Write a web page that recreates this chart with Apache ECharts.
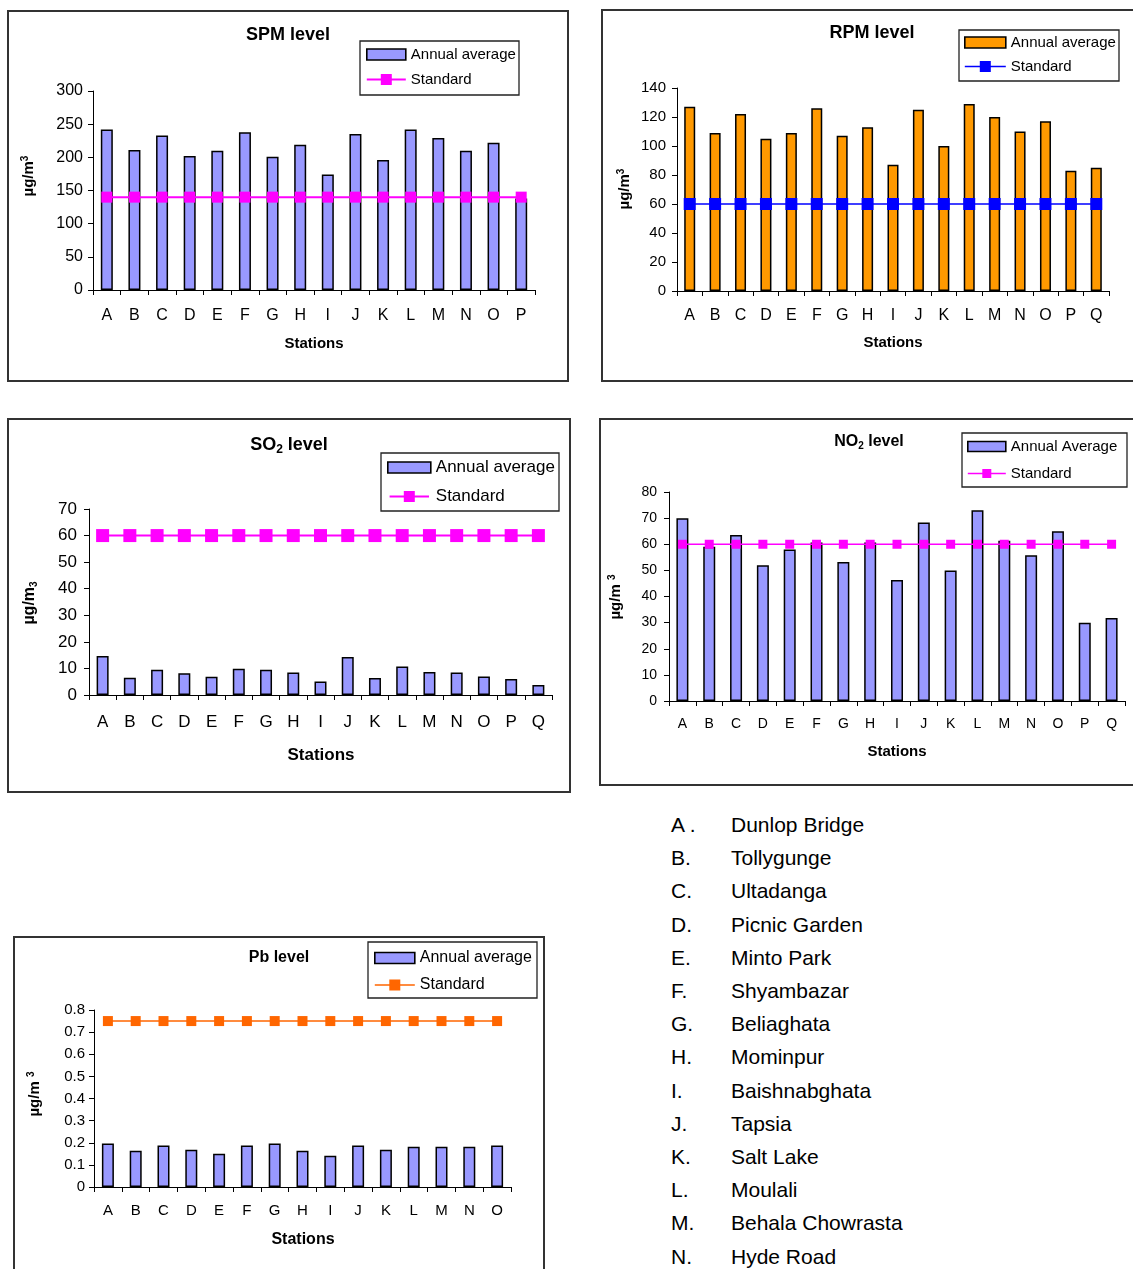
<!DOCTYPE html>
<html><head><meta charset="utf-8">
<script src="https://cdn.jsdelivr.net/npm/echarts@6/dist/echarts.min.js"></script>
<style>
html,body{margin:0;padding:0;background:#fff;}
body{width:1133px;height:1269px;overflow:hidden;position:relative;font-family:'Liberation Sans',Arial,sans-serif;}
.panel{position:absolute;}
.row{position:absolute;font-size:21px;line-height:24px;color:#000;white-space:nowrap;}
</style></head><body>
<script>
// ---- data ----
const stations15 = ['A','B','C','D','E','F','G','H','I','J','K','L','M','N','O'];
const stations16 = ['A','B','C','D','E','F','G','H','I','J','K','L','M','N','O','P'];
const stations17 = ['A','B','C','D','E','F','G','H','I','J','K','L','M','N','O','P','Q'];

const spmAnnual   = [242, 211, 233, 202, 210, 238, 201, 219, 174, 235, 196, 242, 229, 210, 222, 138];
const spmStandard = [140, 140, 140, 140, 140, 140, 140, 140, 140, 140, 140, 140, 140, 140, 140, 140];
const spmTicks    = [0, 300, 50];

const rpmAnnual   = [127, 109, 122, 105, 109, 126, 107, 113, 87, 125, 100, 129, 120, 110, 117, 83, 85];
const rpmStandard = [60, 60, 60, 60, 60, 60, 60, 60, 60, 60, 60, 60, 60, 60, 60, 60, 60];
const rpmTicks    = [0, 140, 20];

const so2Annual   = [14.7, 6.5, 9.5, 8.2, 6.9, 9.9, 9.5, 8.5, 5.1, 14.3, 6.4, 10.7, 8.7, 8.5, 7.0, 6.0, 3.8];
const so2Standard = [60, 60, 60, 60, 60, 60, 60, 60, 60, 60, 60, 60, 60, 60, 60, 60, 60];
const so2Ticks    = [0, 70, 10];

const no2Annual   = [70, 59, 63.5, 52, 58, 60.7, 53.2, 60.7, 46.3, 68.3, 50, 73, 61.3, 55.8, 65, 30, 31.8];
const no2Standard = [60, 60, 60, 60, 60, 60, 60, 60, 60, 60, 60, 60, 60, 60, 60, 60, 60];
const no2Ticks    = [0, 80, 10];

const pbAnnual    = [0.197, 0.164, 0.188, 0.168, 0.150, 0.188, 0.197, 0.164, 0.141, 0.188, 0.168, 0.182, 0.182, 0.182, 0.188];
const pbStandard  = [0.75, 0.75, 0.75, 0.75, 0.75, 0.75, 0.75, 0.75, 0.75, 0.75, 0.75, 0.75, 0.75, 0.75, 0.75];
const pbTicks     = [0, 0.8, 0.1];

const stationCodes = ['A .','B.','C.','D.','E.','F.','G.','H.','I.','J.','K.','L.','M.','N.'];
const stationNames = ['Dunlop Bridge','Tollygunge','Ultadanga','Picnic Garden','Minto Park','Shyambazar','Beliaghata','Mominpur','Baishnabghata','Tapsia','Salt Lake','Moulali','Behala  Chowrasta','Hyde Road'];

// ---- rendering ----
const FONT = "'Liberation Sans', Arial, sans-serif";

// legend icon: thin line with a square marker in the middle
function stdIcon(w, h, lw) {
  const y0 = (h - lw) / 2, y1 = (h + lw) / 2;
  const s0 = (w - h) / 2, s1 = (w + h) / 2;
  return 'path://M0,' + y0 + 'L' + w + ',' + y0 + 'L' + w + ',' + y1 + 'L0,' + y1 + 'Z' +
         'M' + s0 + ',0L' + s1 + ',0L' + s1 + ',' + h + 'L' + s0 + ',' + h + 'Z';
}

function panel(p) {
  const div = document.createElement('div');
  div.className = 'panel';
  div.style.left = p.box[0] + 'px';
  div.style.top = p.box[1] + 'px';
  div.style.width = p.box[2] + 'px';
  div.style.height = p.box[3] + 'px';
  document.body.appendChild(div);
  const chart = echarts.init(div, null, {renderer: 'canvas'});
  const W = p.box[2], H = p.box[3];
  const L = p.legend;
  chart.setOption({
    animation: false,
    textStyle: {fontFamily: FONT},
    grid: {left: p.grid[0], top: p.grid[1], width: p.grid[2], height: p.grid[3], containLabel: false},
    legend: {
      orient: 'vertical', left: L.left, top: L.top, padding: 0,
      itemWidth: L.iw, itemHeight: L.ih, itemGap: L.gap, selectedMode: false,
      textStyle: {fontSize: L.fs, color: '#000', fontFamily: FONT},
      data: [
        {name: p.barName, icon: 'rect', itemStyle: {borderColor: '#000', borderWidth: 1.6}},
        {name: 'Standard', icon: stdIcon(L.iw, L.sq, L.lw), itemHeight: L.sq}
      ]
    },
    xAxis: {
      type: 'category', data: p.cats,
      axisLine: {lineStyle: {color: '#000', width: 1}},
      axisTick: {show: true, length: 5, lineStyle: {color: '#000'}},
      axisLabel: {color: '#000', fontSize: p.xfs, margin: p.xmargin, fontFamily: FONT, interval: 0}
    },
    yAxis: {
      type: 'value', min: p.ticks[0], max: p.ticks[1], interval: p.ticks[2],
      splitLine: {show: false},
      axisLine: {show: true, lineStyle: {color: '#000', width: 1}},
      axisTick: {show: true, length: 5, lineStyle: {color: '#000'}},
      axisLabel: {color: '#000', fontSize: p.yfs, margin: p.ymargin, fontFamily: FONT}
    },
    series: [
      {type: 'bar', name: p.barName, data: p.bar, barWidth: p.barWidth,
       itemStyle: {color: p.barColor, borderColor: '#000', borderWidth: 1.5}},
      {type: 'line', name: 'Standard', data: p.std, symbol: 'rect', symbolSize: p.sym,
       showAllSymbol: true, lineStyle: {color: p.stdColor, width: p.lw},
       itemStyle: {color: p.stdColor}, z: 5}
    ],
    graphic: [
      {type: 'rect', silent: true, z: -10, shape: {x: 1, y: 1, width: W - 2, height: H - 2},
       style: {fill: 'none', stroke: '#333', lineWidth: 2}},
      {type: 'rect', silent: true, z: -10, shape: {x: L.box[0], y: L.box[1], width: L.box[2], height: L.box[3]},
       style: {fill: 'none', stroke: '#222', lineWidth: 1.3}},
      {type: 'text', silent: true, x: p.title.x, y: p.title.y,
       style: {text: p.title.text, rich: p.title.rich || {}, fontSize: p.title.fs, fontWeight: 'bold', fontFamily: FONT,
               fill: '#000', align: 'center', verticalAlign: 'middle', lineHeight: p.title.fs + 4}},
      {type: 'text', silent: true, x: p.xname.x, y: p.xname.y,
       style: {text: 'Stations', fontSize: p.xname.fs, fontWeight: 'bold', fontFamily: FONT,
               fill: '#000', align: 'center', verticalAlign: 'middle'}},
      {type: 'text', silent: true, x: p.yname.x, y: p.yname.y, rotation: Math.PI / 2,
       style: {text: p.yname.text, rich: p.yname.rich, fontSize: p.yname.fs, fontWeight: 'bold', fontFamily: FONT,
               fill: '#000', align: 'center', verticalAlign: 'middle', lineHeight: p.yname.fs + 4}}
    ]
  });
}

function supRich(fs) { return {sup: {fontSize: Math.round(fs * 0.65), fontWeight: 'bold', fontFamily: FONT, lineHeight: Math.round(fs * 0.65), padding: [0, 0, Math.round(fs * 0.5), 0]}}; }
function subRich(fs) { return {sub: {fontSize: Math.round(fs * 0.65), fontWeight: 'bold', fontFamily: FONT, lineHeight: Math.round(fs * 0.65), padding: [Math.round(fs * 0.55), 0, 0, 0]}}; }

// SPM
panel({
  box: [7, 10, 562, 372], grid: [86, 81, 442, 199],
  cats: stations16, bar: spmAnnual, std: spmStandard, ticks: spmTicks,
  barName: 'Annual average', barColor: '#9999FF', barWidth: 12,
  stdColor: '#FF00FF', sym: 11, lw: 2,
  xfs: 16, xmargin: 18, yfs: 16, ymargin: 10,
  legend: {left: 359, top: 37, iw: 39, ih: 11, sq: 11, lw: 2, gap: 10, fs: 15, box: [353, 31, 159, 54]},
  title: {text: 'SPM level', x: 281, y: 25, fs: 18},
  xname: {x: 307, y: 334, fs: 15},
  yname: {text: 'µg/m{sup|3}', rich: supRich(15), x: 22, y: 166, fs: 15}
});

// RPM
panel({
  box: [601, 9, 545, 373], grid: [76, 79, 432, 203],
  cats: stations17, bar: rpmAnnual, std: rpmStandard, ticks: rpmTicks,
  barName: 'Annual average', barColor: '#FF9900', barWidth: 11,
  stdColor: '#0000FF', sym: 12, lw: 1.5,
  xfs: 16, xmargin: 17, yfs: 15, ymargin: 11,
  legend: {left: 363, top: 26, iw: 41, ih: 11, sq: 11, lw: 1.6, gap: 9, fs: 15, box: [358, 21, 160, 51]},
  title: {text: 'RPM level', x: 271, y: 24, fs: 18},
  xname: {x: 292, y: 334, fs: 15},
  yname: {text: 'µg/m{sup|3}', rich: supRich(15), x: 24, y: 180, fs: 15}
});

// SO2
panel({
  box: [7, 418, 564, 375], grid: [82, 91, 463, 186],
  cats: stations17, bar: so2Annual, std: so2Standard, ticks: so2Ticks,
  barName: 'Annual average', barColor: '#9999FF', barWidth: 12,
  stdColor: '#FF00FF', sym: 13, lw: 2,
  xfs: 17, xmargin: 19, yfs: 17, ymargin: 12,
  legend: {left: 380, top: 41, iw: 43, ih: 11, sq: 12, lw: 2, gap: 12, fs: 17, box: [374, 35, 178, 58]},
  title: {text: 'SO{sub|2} level', rich: subRich(18), x: 282, y: 27, fs: 18},
  xname: {x: 314, y: 337, fs: 17},
  yname: {text: 'µg/m{sub|3}', rich: subRich(16), x: 23, y: 185, fs: 16}
});

// NO2
panel({
  box: [599, 418, 545, 368], grid: [70, 74, 456, 209],
  cats: stations17, bar: no2Annual, std: no2Standard, ticks: no2Ticks,
  barName: 'Annual Average', barColor: '#9999FF', barWidth: 12,
  stdColor: '#FF00FF', sym: 9, lw: 1.5,
  xfs: 14, xmargin: 16, yfs: 14, ymargin: 12,
  legend: {left: 368, top: 21, iw: 38, ih: 10, sq: 9, lw: 1.5, gap: 12, fs: 15, box: [363, 15, 165, 54]},
  title: {text: 'NO{sub|2} level', rich: subRich(16), x: 270, y: 24, fs: 16},
  xname: {x: 298, y: 334, fs: 15},
  yname: {text: 'µg/m {sup|3}', rich: supRich(15), x: 17, y: 179, fs: 15}
});

// Pb
panel({
  box: [13, 936, 532, 345], grid: [81, 74, 417, 177],
  cats: stations15, bar: pbAnnual, std: pbStandard, ticks: pbTicks,
  barName: 'Annual average', barColor: '#9999FF', barWidth: 12,
  stdColor: '#FF6600', sym: 10, lw: 1.5,
  xfs: 15, xmargin: 16, yfs: 15, ymargin: 9,
  legend: {left: 361, top: 14, iw: 40, ih: 11, sq: 11, lw: 1.6, gap: 11, fs: 16, box: [355, 6, 169, 56]},
  title: {text: 'Pb level', x: 266, y: 22, fs: 16},
  xname: {x: 290, y: 304, fs: 16},
  yname: {text: 'µg/m {sup|3}', rich: supRich(15), x: 22, y: 158, fs: 15}
});

// station key
stationCodes.forEach(function (c, i) {
  const top = 825 + i * 33.2 - 12;
  const a = document.createElement('div');
  a.className = 'row'; a.style.left = '671px'; a.style.top = top + 'px'; a.textContent = c;
  const b = document.createElement('div');
  b.className = 'row'; b.style.left = '731px'; b.style.top = top + 'px'; b.textContent = stationNames[i];
  document.body.appendChild(a); document.body.appendChild(b);
});
</script>
</body></html>
